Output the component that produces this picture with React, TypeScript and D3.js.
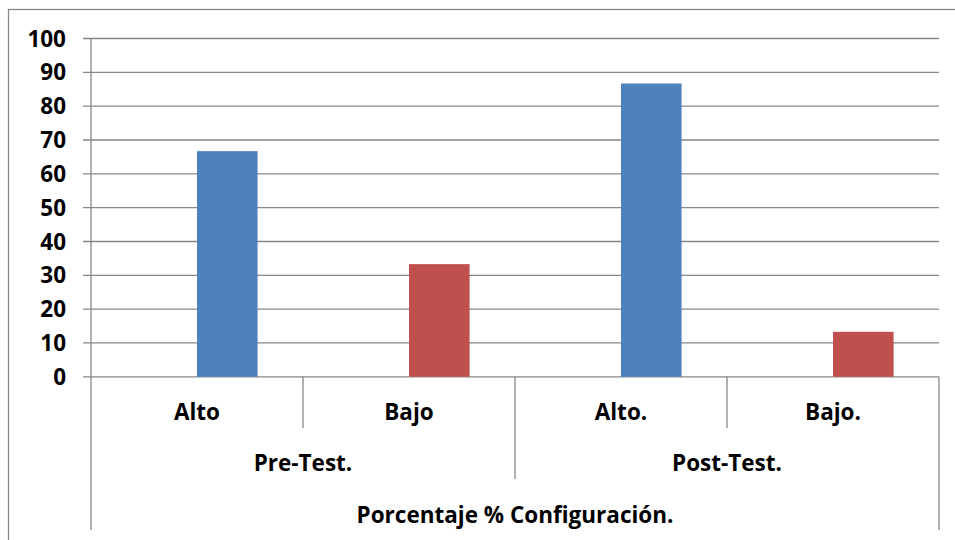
import React from "react";
import * as d3 from "d3";

const categories = ["Alto", "Bajo", "Alto.", "Bajo."];
const groups = ["Pre-Test.", "Post-Test."];
const groupOf = ["Pre-Test.", "Pre-Test.", "Post-Test.", "Post-Test."];
const values = [66.7, 33.3, 86.7, 13.3];
const seriesOf = ["Alto", "Bajo", "Alto", "Bajo"];
const yTicks = [0, 10, 20, 30, 40, 50, 60, 70, 80, 90, 100];
const topTitle = "Porcentaje % Configuración.";

const W = 955;
const H = 540;
const left = 91;
const right = 939;
const top = 38.5;
const bottom = 376.8;
const FONT = "'Open Sans', sans-serif";
const GRID = "#878787";
const colors: Record<string, string> = { Alto: "#4F81BD", Bajo: "#C0504D" };

export default function App() {
  const x = d3.scaleBand().domain(categories).range([left, right]).paddingInner(0).paddingOuter(0);
  const slot = d3.scaleBand().domain(["s1", "s2"]).range([0, x.bandwidth()]).paddingInner(0).paddingOuter(0.75);
  const y = d3.scaleLinear().domain([0, 100]).range([bottom, top]);
  const gx = d3.scaleBand().domain(groups).range([left, right]);

  return (
    <svg width={W} height={H} style={{ position: "absolute", left: 0, top: 0, display: "block" }}>
      <rect x={0} y={0} width={W} height={H} fill="#fff" />
      <rect x={8.5} y={9.5} width={W + 10} height={H + 10} fill="none" stroke={GRID} strokeWidth={1.3} />
      {yTicks.map((t) => (
        <g key={t}>
          <line x1={83} x2={right} y1={y(t)} y2={y(t)} stroke={GRID} strokeWidth={1.3} />
          <text x={66} y={y(t)} dy="0.36em" textAnchor="end" fontFamily={FONT} fontWeight={700} fontSize={22.5} fill="#000">
            {t}
          </text>
        </g>
      ))}
      {categories.map((c, i) => (
        <rect
          key={c}
          x={(x(c) as number) + (slot("s2") as number)}
          width={slot.bandwidth()}
          y={y(values[i])}
          height={y(0) - y(values[i])}
          fill={colors[seriesOf[i]]}
        />
      ))}
      <line x1={left} x2={left} y1={top} y2={530} stroke={GRID} strokeWidth={1.3} />
      <line x1={right} x2={right} y1={bottom} y2={530} stroke={GRID} strokeWidth={1.3} />
      {categories.slice(1).map((c) => {
        const xx = x(c) as number;
        const isGroupEdge = groupOf[categories.indexOf(c)] !== groupOf[categories.indexOf(c) - 1];
        return <line key={c} x1={xx} x2={xx} y1={bottom} y2={isGroupEdge ? 479 : 428} stroke={GRID} strokeWidth={1.3} />;
      })}
      {categories.map((c) => (
        <text key={c} x={(x(c) as number) + x.bandwidth() / 2} y={420} textAnchor="middle" fontFamily={FONT} fontWeight={700} fontSize={22.5}>
          {c}
        </text>
      ))}
      {groups.map((g) => (
        <text key={g} x={(gx(g) as number) + gx.bandwidth() / 2} y={471} textAnchor="middle" fontFamily={FONT} fontWeight={700} fontSize={22.5}>
          {g}
        </text>
      ))}
      <text x={(left + right) / 2} y={523} textAnchor="middle" fontFamily={FONT} fontWeight={700} fontSize={22.5}>
        {topTitle}
      </text>
    </svg>
  );
}
